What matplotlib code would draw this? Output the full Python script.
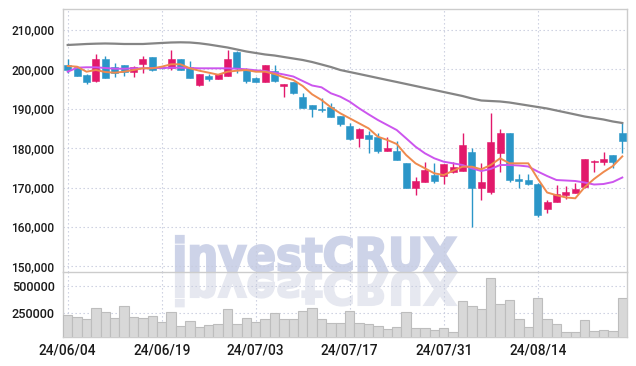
import matplotlib
matplotlib.use("Agg")
import matplotlib.pyplot as plt
from matplotlib.textpath import TextPath
from matplotlib.patches import PathPatch
from matplotlib.font_manager import FontProperties
from matplotlib.transforms import Affine2D
import numpy as np

# ---------------- data ----------------
tick_pos = [0, 10, 20, 30, 40, 50]
tick_labels = ['24/06/04', '24/06/19', '24/07/03', '24/07/17', '24/07/31', '24/08/14']

opens = [201100, 200700, 198600, 197000, 202500, 200600, 201000, 199200, 201400, 203000,
         200600, 200300, 202600, 200600, 196000, 198400, 197500, 198400, 204500, 200000,
         197900, 196900, 199600, 195800, 196900, 192900, 190900, 189700, 190500, 188100,
         185600, 182500, 183300, 182800, 179300, 179300, 176300, 170000, 171500, 173200,
         172900, 174000, 174300, 179100, 169900, 168900, 178700, 183900, 172200, 171900,
         170900, 164500, 166400, 168100, 168700, 170100, 176500, 176500, 178200, 183900]
highs = [202500, 200900, 198800, 203900, 203400, 201600, 201100, 200900, 203400, 203100,
         200800, 204900, 202600, 202100, 198900, 198700, 198800, 204900, 204700, 200300,
         198000, 201200, 201000, 196300, 196900, 193900, 191000, 192800, 191500, 188200,
         186300, 185100, 184400, 183800, 182700, 181900, 176300, 172700, 176500, 176100,
         176000, 176500, 183800, 180100, 176300, 189000, 184800, 183900, 173400, 173400,
         171100, 166800, 170600, 170400, 171100, 177200, 177000, 179100, 178200, 186300]
lows = [199000, 198300, 196300, 196900, 197700, 198100, 198300, 198100, 199100, 199600,
        200200, 199800, 199700, 197700, 195800, 197100, 197500, 198300, 199100, 196600,
        196700, 196800, 196900, 193000, 193700, 190100, 188000, 189200, 187800, 185700,
        182100, 180400, 178800, 178700, 179200, 176900, 169800, 168100, 171400, 171100,
        170900, 173800, 174200, 160100, 166800, 168400, 174000, 171500, 169900, 170600,
        162400, 163500, 166400, 167100, 168500, 170000, 174000, 175700, 174900, 178800]
closes = [199800, 198400, 196700, 202500, 197900, 199000, 199400, 200600, 202600, 199700,
          200400, 202600, 199800, 197900, 198800, 197500, 198700, 202600, 200300, 197000,
          196800, 201100, 197000, 196300, 193900, 190300, 189900, 189600, 188000, 186100,
          182300, 184800, 182400, 179300, 180100, 177000, 169900, 171700, 174400, 171700,
          176000, 175200, 180800, 169900, 171400, 181500, 183900, 171900, 171700, 170800,
          163000, 166300, 168400, 168900, 169700, 177200, 176700, 177200, 176500, 181900]
volumes = [234000, 216000, 198000, 296000, 262000, 207000, 317000, 216000, 207000, 225000,
           167000, 259000, 134000, 180000, 125000, 143000, 152000, 289000, 152000, 207000,
           170000, 198000, 253000, 198000, 198000, 271000, 299000, 195000, 158000, 158000,
           271000, 158000, 149000, 131000, 103000, 122000, 259000, 113000, 113000, 94000,
           113000, 76000, 360000, 314000, 289000, 570000, 332000, 369000, 195000, 125000,
           387000, 195000, 149000, 76000, 76000, 186000, 85000, 94000, 85000, 387000]
ma_short = [200840, 200660, 199390, 199820, 199300, 199140, 199390, 199820, 200250, 200250,
            200660, 201270, 201270, 200250, 199640, 199140, 198630, 199390, 199640, 199820,
            199390, 199390, 198810, 197970, 197280, 195760, 193650, 192210, 190360, 188830,
            187560, 186290, 185020, 182890, 182060, 181040, 178250, 176140, 174870, 173600,
            173170, 174260, 175280, 175280, 174620, 175710, 177410, 176140, 176140, 176140,
            172260, 168740, 168040, 167480, 167260, 170100, 172180, 173940, 175460, 177900]
ma_mid = [199390, 200410, 200510, 200510, 200330, 200150, 200150, 200250, 200250, 200330,
          200330, 200410, 200410, 200330, 200250, 200250, 200250, 200250, 200150, 200000,
          199750, 199570, 199140, 198680, 198170, 197030, 195890, 195430, 193910, 193050,
          191780, 190100, 188580, 187130, 185860, 184590, 182490, 180360, 178680, 177410,
          176550, 176140, 175710, 174870, 174190, 174700, 175710, 175710, 175580, 175330,
          174060, 172920, 171900, 171780, 171650, 171270, 170760, 170890, 171400, 172540]
ma_long = [206170, 206290, 206420, 206500, 206550, 206500, 206420, 206420, 206420, 206550,
           206680, 206800, 206850, 206800, 206600, 206290, 205910, 205530, 205030, 204520,
           204140, 203760, 203500, 203120, 202740, 202360, 201850, 201220, 200580, 199820,
           199310, 198810, 198300, 197790, 197280, 196780, 196270, 195760, 195250, 194750,
           194240, 193730, 193220, 192590, 192080, 191950, 191830, 191570, 191190, 190810,
           190430, 190050, 189540, 189040, 188530, 188020, 187640, 187260, 186750, 186370]

price_ticks = [150000, 160000, 170000, 180000, 190000, 200000, 210000]
vol_ticks = [250000, 500000]

# ---------------- style ----------------
RED = '#e2196b'
BLUE = '#2b96c8'
GRID = '#c6cbdd'
SPINE = '#cccccc'
TXT = '#1a1a1a'
FONT = ['Roboto', 'Liberation Sans', 'DejaVu Sans']
plt.rcParams['font.family'] = FONT
plt.rcParams['font.weight'] = 'medium'

W, H = 636, 366
fig = plt.figure(figsize=(W / 100, H / 100), dpi=100)
L, R, T, MID, B = 63, 627, 9, 272, 337
ax1 = fig.add_axes([L / W, (H - MID) / H, (R - L) / W, (MID - T) / H])
ax2 = fig.add_axes([L / W, (H - B) / H, (R - L) / W, (B - MID) / H], sharex=ax1)

n = len(closes)
x = np.arange(n)
o = np.array(opens); c = np.array(closes); h = np.array(highs); lo = np.array(lows)
up = c >= o
cols = [RED if u else BLUE for u in up]

# wicks
ax1.vlines(x, lo, h, colors=cols, linewidth=1.0, zorder=3)
# bodies
body_bottom = np.minimum(o, c)
body_h = np.maximum(np.abs(c - o), 250)
ax1.bar(x, body_h, bottom=body_bottom, width=0.74, color=cols, edgecolor=cols,
        linewidth=0.4, zorder=4)

# moving averages
ax1.plot(x, ma_long, color='#858585', linewidth=1.6, zorder=5)
ax1.plot(x, ma_mid, color='#cc55ee', linewidth=1.4, zorder=5)
ax1.plot(x, ma_short, color='#ef8a4e', linewidth=1.4, zorder=6)

ax1.set_xlim(-0.5, n - 0.5)
ax1.set_ylim(148560, 215300)
ax1.set_yticks(price_ticks)
ax1.set_yticklabels([f'{v:,}' for v in price_ticks])

# volume
ax2.bar(x, volumes, width=1.0, color='#d8d8d8', edgecolor='#bdbdbd', linewidth=0.8, zorder=3)
ax2.set_ylim(30000, 628000)
ax2.set_yticks(vol_ticks)
ax2.set_yticklabels([str(v) for v in vol_ticks])
ax2.set_xticks(tick_pos)
ax2.set_xticklabels(tick_labels)

for ax in (ax1, ax2):
    ax.grid(True, color=GRID, linestyle=(0, (1.2, 2.4)), linewidth=0.8)
    ax.set_axisbelow(True)
    for s in ax.spines.values():
        s.set_color(SPINE)
        s.set_linewidth(1.0)
    ax.tick_params(length=0, colors=TXT)
ax1.tick_params(axis='x', labelbottom=False)
ax1.tick_params(axis='y', labelsize=8.6, pad=6)
ax2.tick_params(axis='y', labelsize=9.1, pad=6)
ax2.tick_params(axis='x', labelsize=9.8, pad=5)
ax1.spines['bottom'].set_visible(False)

# watermark "investCRUX" with reflection
fp = FontProperties(family='DejaVu Sans', weight='bold')
tp = TextPath((0, 0), 'investCRUX', size=1, prop=fp)
ext = tp.get_extents()
x0_px, x1_px = 176, 456
top_px, base_px = 236, 271
sx = (x1_px - x0_px) / ext.width
sy = (base_px - top_px) / ext.y1
tr_main = Affine2D().translate(-ext.x0, 0).scale(sx, sy).translate(x0_px, H - base_px)
wm = PathPatch(tp, facecolor='#cdd3e8', edgecolor='#cdd3e8', linewidth=1.6,
               transform=tr_main, zorder=0.5)
ax1.add_patch(wm)
wm.set_clip_path(ax1.patch)
tr_ref = Affine2D().translate(-ext.x0, 0).scale(sx, -sy * 0.95).translate(x0_px, H - base_px - 2)
wr = PathPatch(tp, facecolor='#e6e8f0', edgecolor='#e6e8f0', linewidth=1.6,
               transform=tr_ref, zorder=0.5)
ax2.add_patch(wr)
wr.set_clip_path(ax2.patch)

fig.savefig('out.png', dpi=100)
